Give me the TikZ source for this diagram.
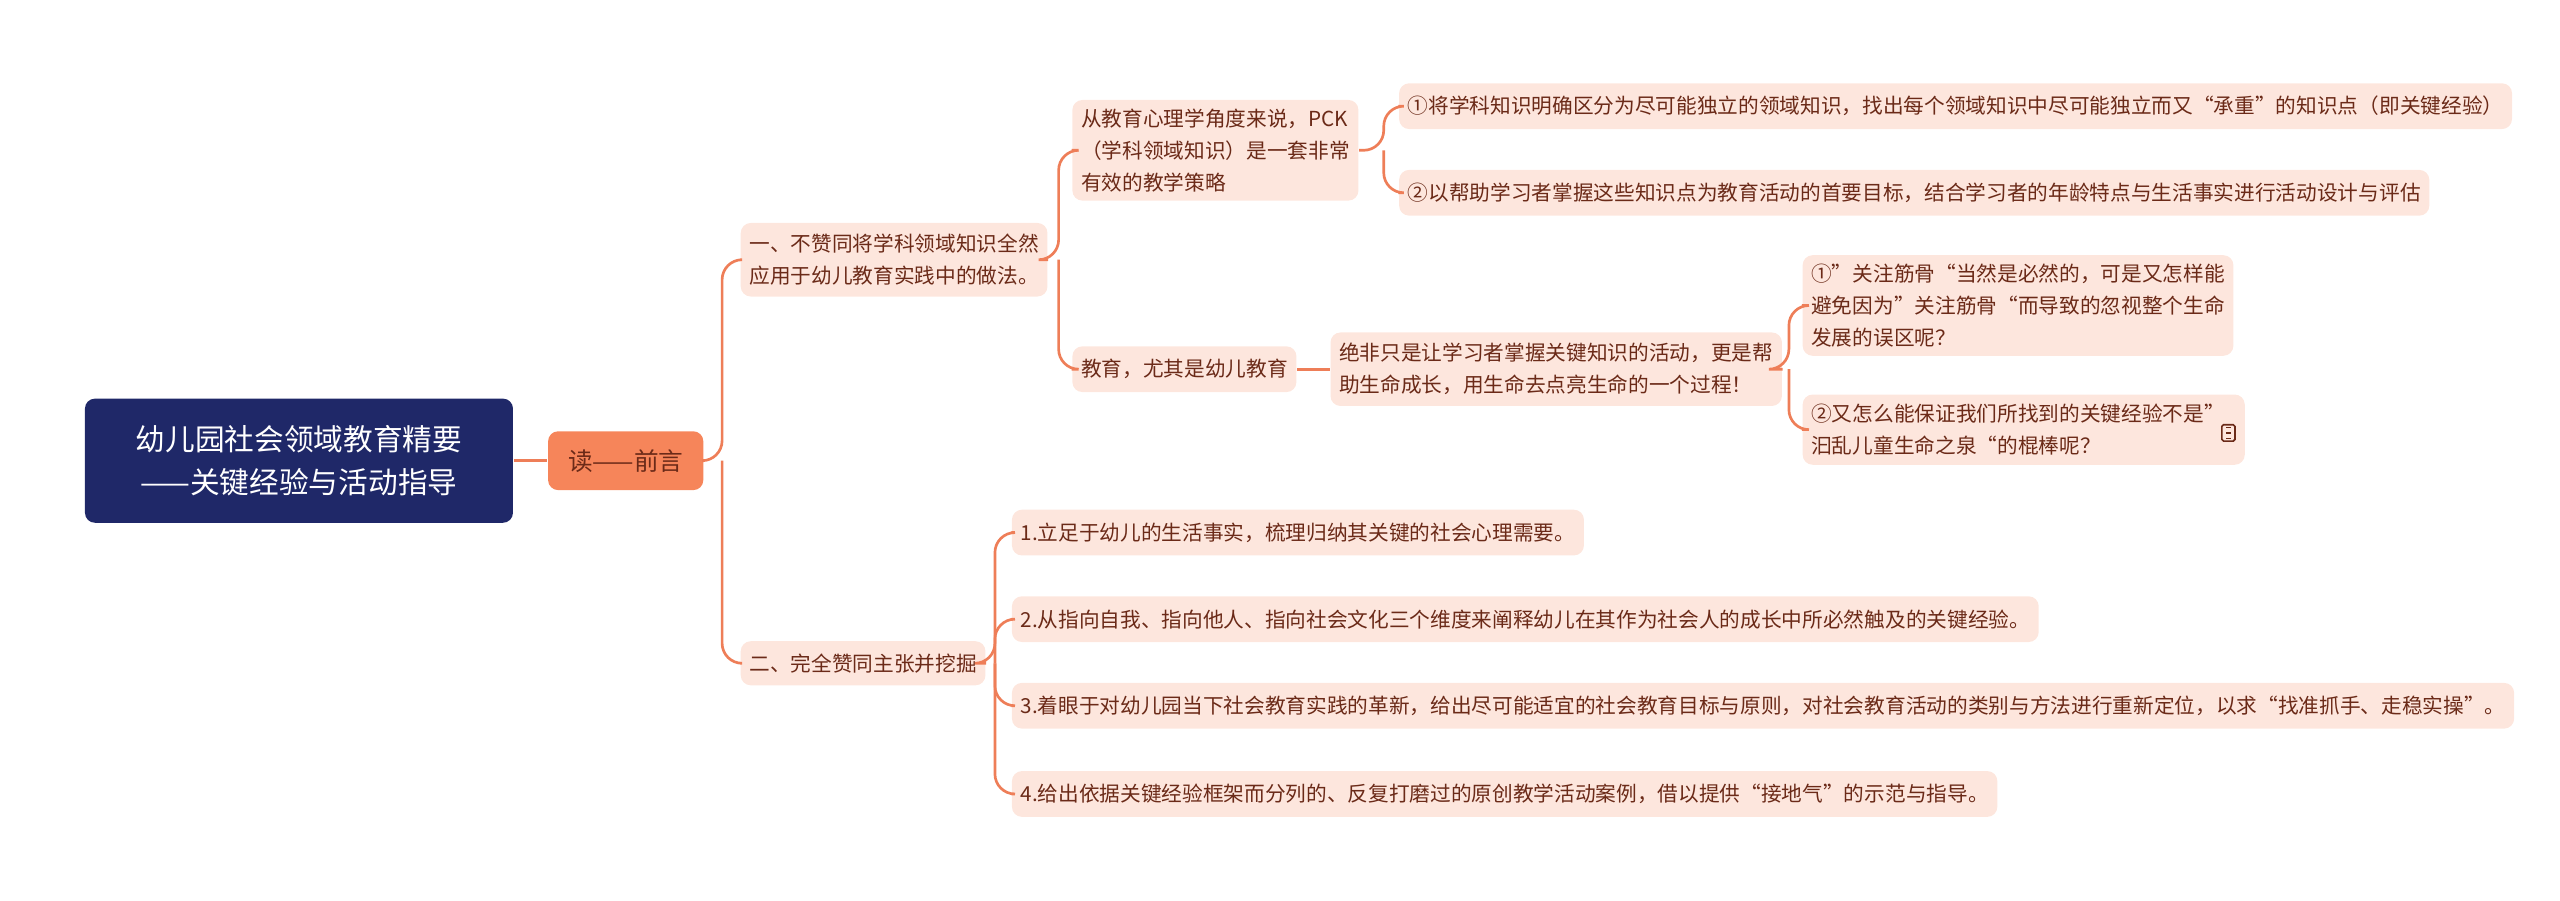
\documentclass[tikz,border=0pt]{standalone}
\usepackage{fontspec}
\setmainfont{Noto Sans CJK SC}
\begin{document}
\begin{tikzpicture}[x=0.49pt,y=-0.49pt,
  box/.style={fill=boxc,rounded corners=3pt,inner sep=2.6pt,text=txt,font=\fontsize{6.2}{9.6}\selectfont,align=left,anchor=west},
  conn/.style={draw=linec,line width=0.8pt,rounded corners=6pt}]
\definecolor{boxc}{HTML}{FDE6DD}
\definecolor{txt}{HTML}{6B2A18}
\definecolor{linec}{HTML}{EE7E58}
\definecolor{navy}{HTML}{1F2868}
\definecolor{orng}{HTML}{F6855A}
\useasboundingbox (0,0) rectangle (1567,551);
\node[fill=navy,rounded corners=3pt,text=white,font=\fontsize{8.9}{13}\selectfont,minimum width=262*0.49pt,minimum height=76*0.49pt,align=center] (root) at (183,282) {幼儿园社会领域教育精要\\——关键经验与活动指导};
\node[fill=orng,rounded corners=3pt,text=txt,font=\fontsize{7.4}{10}\selectfont,minimum width=95*0.49pt,minimum height=36*0.49pt] (L1) at (383,282) {读——前言};
\node[box,minimum height=45*0.49pt] (A) at (453,159) {一、不赞同将学科领域知识全然\\应用于幼儿教育实践中的做法。};
\node[box,minimum height=27*0.49pt] (B) at (453,406) {二、完全赞同主张并挖掘};
\node[box,minimum height=60*0.49pt] (A1) at (656,92) {从教育心理学角度来说，PCK\\（学科领域知识）是一套非常\\有效的教学策略};
\node[box,minimum height=28*0.49pt] (A2) at (656,226) {教育，尤其是幼儿教育};
\node[box,minimum height=28*0.49pt] (A11) at (856,65) {①将学科知识明确区分为尽可能独立的领域知识，找出每个领域知识中尽可能独立而又“承重”的知识点（即关键经验）};
\node[box,minimum height=28*0.49pt] (A12) at (856,118) {②以帮助学习者掌握这些知识点为教育活动的首要目标，结合学习者的年龄特点与生活事实进行活动设计与评估};
\node[box,minimum height=45*0.49pt] (A21) at (814,226) {绝非只是让学习者掌握关键知识的活动，更是帮\\助生命成长，用生命去点亮生命的一个过程！};
\node[box,minimum height=60*0.49pt] (A211) at (1103,187) {①”关注筋骨“当然是必然的，可是又怎样能\\避免因为”关注筋骨“而导致的忽视整个生命\\发展的误区呢？};
\node[box,minimum height=43*0.49pt,text width=260*0.49pt] (A212) at (1103,263) {②又怎么能保证我们所找到的关键经验不是”\\汩乱儿童生命之泉“的棍棒呢？};
\node[box,minimum height=28*0.49pt] (B1) at (619,326) {1.立足于幼儿的生活事实，梳理归纳其关键的社会心理需要。};
\node[box,minimum height=28*0.49pt] (B2) at (619,379) {2.从指向自我、指向他人、指向社会文化三个维度来阐释幼儿在其作为社会人的成长中所必然触及的关键经验。};
\node[box,minimum height=28*0.49pt] (B3) at (619,432) {3.着眼于对幼儿园当下社会教育实践的革新，给出尽可能适宜的社会教育目标与原则，对社会教育活动的类别与方法进行重新定位，以求“找准抓手、走稳实操”。};
\node[box,minimum height=28*0.49pt] (B4) at (619,486) {4.给出依据关键经验框架而分列的、反复打磨过的原创教学活动案例，借以提供“接地气”的示范与指导。};
% note icon
\node[draw=txt,line width=0.5pt,minimum width=8*0.49pt,minimum height=10*0.49pt,inner sep=0pt,rounded corners=0.5pt] (ic) at (1364,265) {};
\draw[txt,line width=0.4pt] ([xshift=1.5pt,yshift=-1pt]ic.north west) -- ([xshift=-1.5pt,yshift=-1pt]ic.north east)
  ([xshift=1.5pt]ic.west) -- ([xshift=-1.5pt]ic.east)
  ([xshift=1.5pt,yshift=1pt]ic.south west) -- ([xshift=-1.5pt,yshift=1pt]ic.south east);
% connectors
\draw[conn] (root.east) -- (L1.west);
\coordinate (s1) at (442,282);
\draw[conn] (L1.east) -- (s1) |- (A.west);
\draw[conn] (s1) |- (B.west);
\coordinate (s2) at (648,159);
\draw[conn] (A.east) -- (s2) |- (A1.west);
\draw[conn] (s2) |- (A2.west);
\coordinate (s3) at (847,92);
\draw[conn] (A1.east) -- (s3) |- (A11.west);
\draw[conn] (s3) |- (A12.west);
\draw[conn] (A2.east) -- (A21.west);
\coordinate (s4) at (1095,226);
\draw[conn] (A21.east) -- (s4) |- (A211.west);
\draw[conn] (s4) |- (A212.west);
\coordinate (s5) at (609,406);
\draw[conn] (B.east) -- (s5) |- (B1.west);
\draw[conn] (s5) |- (B2.west);
\draw[conn] (s5) |- (B3.west);
\draw[conn] (s5) |- (B4.west);
\end{tikzpicture}
\end{document}
